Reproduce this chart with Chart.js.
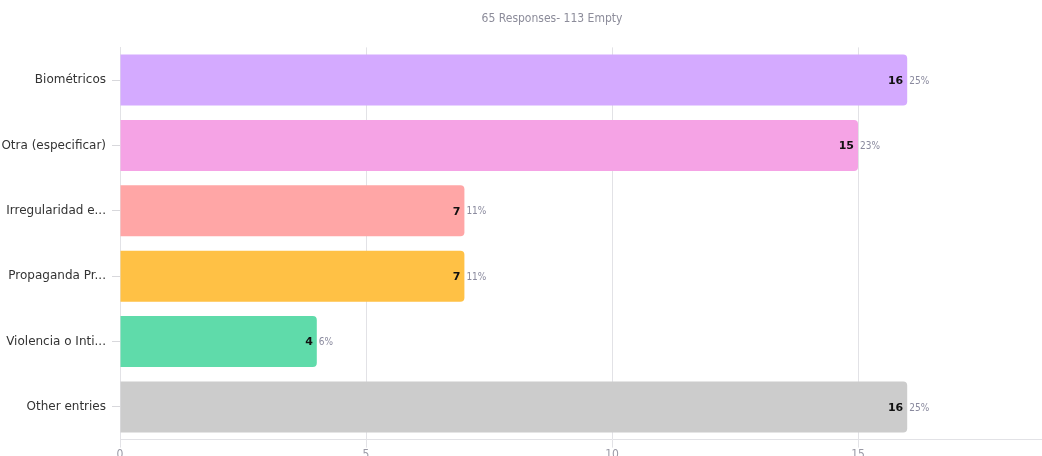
<!DOCTYPE html>
<html>
<head>
<meta charset="utf-8">
<script src="https://cdn.jsdelivr.net/npm/chart.js@4/dist/chart.umd.min.js"></script>
<style>
    html, body { margin: 0; padding: 0; background: #fff; overflow: hidden; }
    #wrap { position: absolute; left: 0; top: 0; width: 1114px; height: 462px; }
</style>
</head>
<body>
<div id="wrap"><canvas id="chart" width="1114" height="462"></canvas></div>
<script>
const categories = ['Biométricos', 'Otra (especificar)', 'Irregularidad e...', 'Propaganda Pr...', 'Violencia o Inti...', 'Other entries'];
const counts = [16, 15, 7, 7, 4, 16];
const barColors = ['#d4aaff', '#f5a3e5', '#ffa6a6', '#ffc145', '#5fdbaa', '#cccccc'];
const totalResponses = 65;
const emptyResponses = 113;
const xTicks = [0, 5, 10, 15, 20];

const narrow = '"DejaVu Sans Condensed", "Liberation Sans Narrow", "Arial Narrow", "DejaVu Sans", sans-serif';

// écrit le nombre en gras dans la barre et le pourcentage juste après
const valueLabels = {
    id: 'valueLabels',
    afterDatasetsDraw(chart) {
        const ctx = chart.ctx;
        const meta = chart.getDatasetMeta(0);
        ctx.save();
        ctx.textBaseline = 'middle';
        meta.data.forEach((bar, i) => {
            const pct = Math.round(counts[i] / totalResponses * 100) + '%';
            ctx.font = 'bold 11px "DejaVu Sans"';
            ctx.fillStyle = '#111';
            ctx.textAlign = 'right';
            ctx.fillText(String(counts[i]), bar.x - 4, bar.y + 1);
            ctx.font = '10px ' + narrow;
            ctx.fillStyle = '#8a8a9e';
            ctx.textAlign = 'left';
            ctx.fillText(pct, bar.x + 2, bar.y + 1);
        });
        ctx.restore();
    }
};

new Chart(document.getElementById('chart'), {
    type: 'bar',
    data: {
        labels: categories,
        datasets: [{
            data: counts,
            backgroundColor: barColors,
            borderRadius: 4,
            borderSkipped: 'start',
            categoryPercentage: 1,
            barPercentage: 0.78
        }]
    },
    plugins: [valueLabels],
    options: {
        indexAxis: 'y',
        responsive: false,
        animation: false,
        layout: { padding: { left: 0, right: 10, bottom: 0 } },
        plugins: {
            legend: { display: false },
            tooltip: { enabled: false },
            title: {
                display: true,
                text: totalResponses + ' Responses- ' + emptyResponses + ' Empty',
                color: '#8c8c9a',
                font: { family: narrow, size: 12, weight: 'normal' },
                padding: { top: 12, bottom: 21 }
            }
        },
        scales: {
            x: {
                min: 0,
                max: 20,
                afterBuildTicks: axis => { axis.ticks = xTicks.map(v => ({ value: v })); },
                grid: { color: '#e2e2e6', tickLength: 8 },
                border: { color: '#e2e2e6' },
                ticks: {
                    color: '#9a9aa6',
                    font: { family: narrow, size: 12 },
                    padding: 0
                }
            },
            y: {
                afterFit: axis => { axis.width = 120; },
                grid: { drawOnChartArea: false, offset: false, color: '#d8d8dc', tickLength: 8 },
                border: { color: '#e2e2e6' },
                ticks: {
                    color: '#333',
                    font: { family: '"DejaVu Sans"', size: 12 },
                    padding: 6
                }
            }
        }
    }
});
</script>
</body>
</html>
